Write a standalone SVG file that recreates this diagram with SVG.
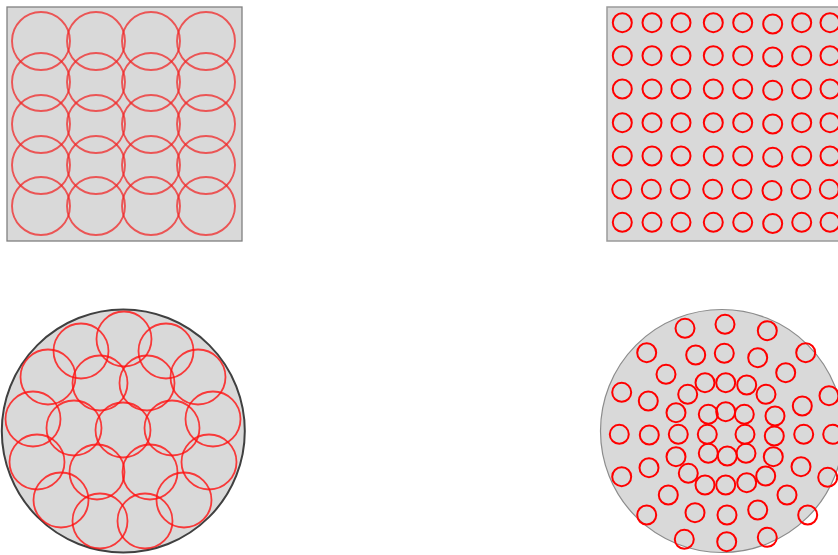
<svg xmlns="http://www.w3.org/2000/svg" width="838" height="555" viewBox="0 0 838 555">
<style>
.bg{fill:#d9d9d9}
.sq{stroke:#808080;stroke-width:1.3}
.sq2{stroke:#9a9a9a;stroke-width:1.5}
.big{fill:none;stroke:#f02828;stroke-opacity:0.75;stroke-width:1.9}
.bigc{fill:none;stroke:#ff1010;stroke-opacity:0.8;stroke-width:1.8}
.sm{fill:none;stroke:#ff0000;stroke-width:2}
</style>
<rect width="838" height="555" fill="#ffffff"/>
<g id="square-large">
<rect class="bg sq" x="7" y="7" width="235" height="234"/>
<g class="big">
<circle cx="41" cy="41" r="29"/><circle cx="96" cy="41" r="29"/><circle cx="151" cy="41" r="29"/><circle cx="206" cy="41" r="29"/>
<circle cx="41" cy="82" r="29"/><circle cx="96" cy="82" r="29"/><circle cx="151" cy="82" r="29"/><circle cx="206" cy="82" r="29"/>
<circle cx="41" cy="124" r="29"/><circle cx="96" cy="124" r="29"/><circle cx="151" cy="124" r="29"/><circle cx="206" cy="124" r="29"/>
<circle cx="41" cy="165" r="29"/><circle cx="96" cy="165" r="29"/><circle cx="151" cy="165" r="29"/><circle cx="206" cy="165" r="29"/>
<circle cx="41" cy="206" r="29"/><circle cx="96" cy="206" r="29"/><circle cx="151" cy="206" r="29"/><circle cx="206" cy="206" r="29"/>
</g>
</g>
<g id="square-small">
<rect class="bg sq2" x="607" y="7" width="240" height="234"/>
<g class="sm">
<circle cx="622.3" cy="22.7" r="9.5"/><circle cx="652" cy="22.7" r="9.5"/><circle cx="681" cy="22.7" r="9.5"/><circle cx="713.3" cy="22.7" r="9.5"/><circle cx="742.7" cy="22.7" r="9.5"/><circle cx="772.7" cy="24" r="9.5"/><circle cx="801.7" cy="22.7" r="9.5"/><circle cx="830" cy="22.7" r="9.5"/>
<circle cx="622.3" cy="55.7" r="9.5"/><circle cx="652" cy="55.7" r="9.5"/><circle cx="681" cy="55.7" r="9.5"/><circle cx="713.3" cy="55.7" r="9.5"/><circle cx="742.7" cy="55.7" r="9.5"/><circle cx="772.7" cy="57" r="9.5"/><circle cx="801.7" cy="55.7" r="9.5"/><circle cx="830" cy="55.7" r="9.5"/>
<circle cx="622.3" cy="89" r="9.5"/><circle cx="652" cy="89" r="9.5"/><circle cx="681" cy="89" r="9.5"/><circle cx="713.3" cy="89" r="9.5"/><circle cx="742.7" cy="89" r="9.5"/><circle cx="772.7" cy="90.3" r="9.5"/><circle cx="801.7" cy="89" r="9.5"/><circle cx="830" cy="89" r="9.5"/>
<circle cx="622.3" cy="122.7" r="9.5"/><circle cx="652" cy="122.7" r="9.5"/><circle cx="681" cy="122.7" r="9.5"/><circle cx="713.3" cy="122.7" r="9.5"/><circle cx="742.7" cy="122.7" r="9.5"/><circle cx="772.7" cy="124" r="9.5"/><circle cx="801.7" cy="122.7" r="9.5"/><circle cx="830" cy="122.7" r="9.5"/>
<circle cx="622.3" cy="156" r="9.5"/><circle cx="652" cy="156" r="9.5"/><circle cx="681" cy="156" r="9.5"/><circle cx="713.3" cy="156" r="9.5"/><circle cx="742.7" cy="156" r="9.5"/><circle cx="772.7" cy="157.3" r="9.5"/><circle cx="801.7" cy="156" r="9.5"/><circle cx="830" cy="156" r="9.5"/>
<circle cx="621.7" cy="189.3" r="9.5"/><circle cx="651.3" cy="189.3" r="9.5"/><circle cx="680.3" cy="189.3" r="9.5"/><circle cx="712.7" cy="189.3" r="9.5"/><circle cx="742" cy="189.3" r="9.5"/><circle cx="772" cy="190.6" r="9.5"/><circle cx="801" cy="189.3" r="9.5"/><circle cx="829.3" cy="189.3" r="9.5"/>
<circle cx="622.3" cy="222.3" r="9.5"/><circle cx="652" cy="222.3" r="9.5"/><circle cx="681" cy="222.3" r="9.5"/><circle cx="713.3" cy="222.3" r="9.5"/><circle cx="742.7" cy="222.3" r="9.5"/><circle cx="772.7" cy="223.6" r="9.5"/><circle cx="801.7" cy="222.3" r="9.5"/><circle cx="830" cy="222.3" r="9.5"/>
</g>
</g>
<g id="circle-large">
<circle cx="123.3" cy="431" r="121.5" fill="#d9d9d9" stroke="#404040" stroke-width="2"/>
<g class="bigc">
<circle cx="123" cy="430" r="27.5"/>
<circle cx="100" cy="383" r="27.5"/><circle cx="147" cy="383" r="27.5"/><circle cx="74" cy="428" r="27.5"/><circle cx="172" cy="428" r="27.5"/><circle cx="97" cy="472" r="27.5"/><circle cx="150" cy="472" r="27.5"/>
<circle cx="124" cy="339" r="27.5"/><circle cx="166" cy="351" r="27.5"/><circle cx="198" cy="377" r="27.5"/><circle cx="213" cy="419" r="27.5"/><circle cx="209" cy="462" r="27.5"/><circle cx="184" cy="500" r="27.5"/><circle cx="145" cy="521" r="27.5"/>
<circle cx="100" cy="521" r="27.5"/><circle cx="61" cy="500" r="27.5"/><circle cx="37" cy="462" r="27.5"/><circle cx="33" cy="419" r="27.5"/><circle cx="48" cy="377" r="27.5"/><circle cx="81" cy="351" r="27.5"/>
</g>
</g>
<g id="circle-small">
<circle cx="722" cy="431" r="121.5" fill="#d9d9d9" stroke="#8c8c8c" stroke-width="1.2"/>
<g class="sm">
<circle cx="708.3" cy="414.3" r="9.5"/><circle cx="725.7" cy="411.7" r="9.5"/><circle cx="744.3" cy="414.3" r="9.5"/><circle cx="707.3" cy="434.3" r="9.5"/><circle cx="745" cy="434.3" r="9.5"/><circle cx="708.3" cy="453.3" r="9.5"/><circle cx="727.3" cy="456" r="9.5"/><circle cx="746" cy="453.3" r="9.5"/>
<circle cx="705" cy="382.7" r="9.5"/><circle cx="725.7" cy="382.7" r="9.5"/><circle cx="746.7" cy="385" r="9.5"/><circle cx="687.7" cy="394.3" r="9.5"/><circle cx="766" cy="394.3" r="9.5"/><circle cx="676" cy="412.7" r="9.5"/><circle cx="775" cy="416" r="9.5"/><circle cx="678.3" cy="434.3" r="9.5"/><circle cx="774.3" cy="436" r="9.5"/><circle cx="676" cy="456.7" r="9.5"/><circle cx="773.3" cy="456.7" r="9.5"/><circle cx="688.3" cy="473.3" r="9.5"/><circle cx="765.7" cy="476" r="9.5"/><circle cx="705" cy="485" r="9.5"/><circle cx="725.7" cy="485" r="9.5"/><circle cx="746.7" cy="482.7" r="9.5"/>
<circle cx="648.3" cy="401" r="9.5"/><circle cx="666" cy="374.3" r="9.5"/><circle cx="695.7" cy="355" r="9.5"/><circle cx="724.3" cy="353.3" r="9.5"/><circle cx="757.7" cy="357.7" r="9.5"/><circle cx="785.7" cy="372.7" r="9.5"/><circle cx="802.3" cy="406" r="9.5"/><circle cx="803.7" cy="434.3" r="9.5"/><circle cx="801" cy="466.7" r="9.5"/><circle cx="787" cy="495" r="9.5"/><circle cx="757.7" cy="510" r="9.5"/><circle cx="727" cy="515" r="9.5"/><circle cx="695" cy="512.7" r="9.5"/><circle cx="668.3" cy="495" r="9.5"/><circle cx="649" cy="467.7" r="9.5"/><circle cx="649.3" cy="435" r="9.5"/>
<circle cx="685" cy="328.3" r="9.5"/><circle cx="725" cy="324.3" r="9.5"/><circle cx="767.3" cy="330.7" r="9.5"/><circle cx="646.7" cy="352.7" r="9.5"/><circle cx="805.7" cy="352.7" r="9.5"/><circle cx="621.7" cy="392.3" r="9.5"/><circle cx="829" cy="395.7" r="9.5"/><circle cx="619.3" cy="434.3" r="9.5"/><circle cx="832.7" cy="434.3" r="9.5"/><circle cx="621.7" cy="476.7" r="9.5"/><circle cx="827.7" cy="477.3" r="9.5"/><circle cx="646.7" cy="515" r="9.5"/><circle cx="807.7" cy="515" r="9.5"/><circle cx="684.3" cy="539.3" r="9.5"/><circle cx="726.7" cy="541.7" r="9.5"/><circle cx="767.3" cy="537.3" r="9.5"/>
</g>
</g>
</svg>
